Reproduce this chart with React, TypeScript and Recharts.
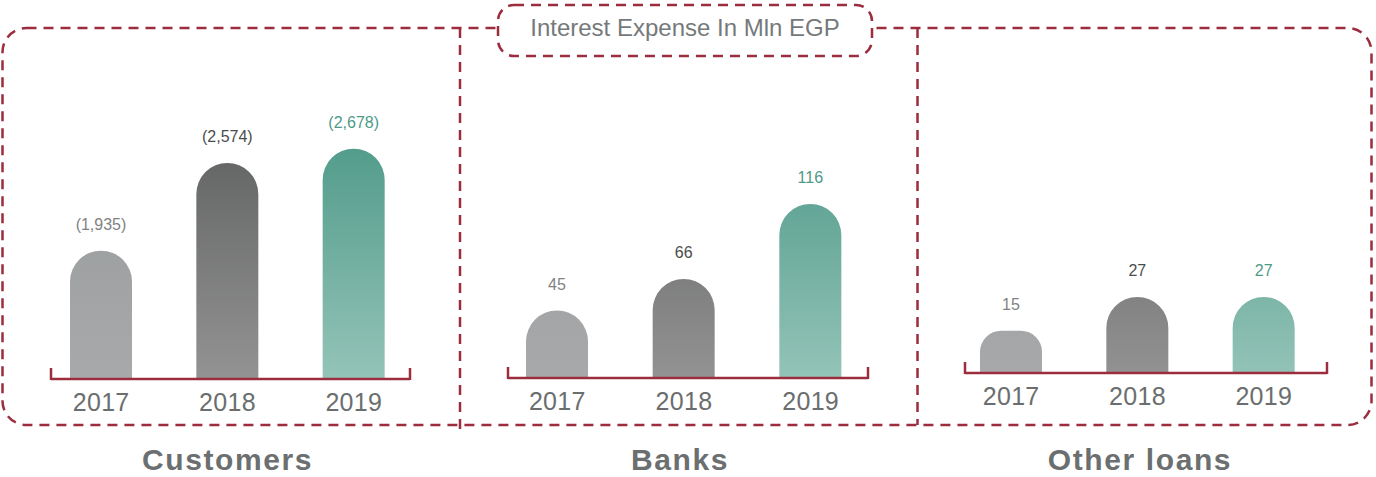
import React from "react"
import { BarChart, Bar, XAxis, YAxis, Cell } from "recharts"

// ---------------------------------------------------------------------------
// Data
// ---------------------------------------------------------------------------

const years = ["2017", "2018", "2019"]
const customers = [1935, 2574, 2678]
const banks = [45, 66, 116]
const otherLoans = [15, 27, 27]
const panelTitles = ["Customers", "Banks", "Other loans"]
const chartTitle = "Interest Expense In Mln EGP"

// ---------------------------------------------------------------------------
// Styles
// ---------------------------------------------------------------------------

const MAROON = "#9b2d3f"
const FONT = "'Liberation Sans', Arial, Helvetica, sans-serif"
const LABEL_COLORS = ["#7f8282", "#4b4d4d", "#4e9a88"]
const GRADIENTS = [
  ["#95999a", "#a8a9aa"],
  ["#5f6160", "#939393"],
  ["#4e9988", "#94c4b8"],
]

const paren = (v: number) => `(${v.toLocaleString("en-US")})`
const plain = (v: number) => String(v)

// ---------------------------------------------------------------------------
// One panel
// ---------------------------------------------------------------------------

interface PanelProps {
  id: string
  values: number[]
  fmt: (v: number) => string
  domain: [number, number]
  left: number
  width: number
  margin: { top: number; right: number; bottom: number; left: number }
  padding: { left: number; right: number }
}

function Panel({ id, values, fmt, domain, left, width, margin, padding }: PanelProps) {
  const data = years.map((year, i) => ({ year, value: values[i] }))

  const renderLabel = (props: any) => {
    const { x, y, width: w, value, index } = props
    return (
      <text
        x={Number(x) + Number(w) / 2}
        y={Number(y) - 21}
        textAnchor="middle"
        fontSize={16}
        fontFamily={FONT}
        fill={LABEL_COLORS[index] ?? LABEL_COLORS[0]}
      >
        {fmt(Number(value))}
      </text>
    )
  }

  return (
    <div style={{ position: "absolute", left, top: 0 }}>
      <BarChart width={width} height={430} data={data} margin={margin}>
        <defs>
          {GRADIENTS.map(([from, to], i) => (
            <linearGradient
              key={i}
              id={`${id}-g${i}`}
              gradientUnits="userSpaceOnUse"
              x1="0"
              y1="130"
              x2="0"
              y2="380"
            >
              <stop offset="0%" stopColor={from} />
              <stop offset="100%" stopColor={to} />
            </linearGradient>
          ))}
        </defs>
        <XAxis
          dataKey="year"
          interval={0}
          height={40}
          padding={padding}
          tickLine={false}
          tickMargin={8}
          axisLine={{ stroke: MAROON, strokeWidth: 2.5 }}
          tick={{ fontSize: 25, fill: "#6b6e6e", fontFamily: FONT, letterSpacing: 0.3 }}
        />
        <YAxis hide domain={domain} />
        <Bar
          dataKey="value"
          barSize={62}
          radius={[31, 31, 0, 0]}
          isAnimationActive={false}
          label={renderLabel}
        >
          {data.map((d, i) => (
            <Cell key={d.year} fill={`url(#${id}-g${i})`} />
          ))}
        </Bar>
      </BarChart>
    </div>
  )
}

// ---------------------------------------------------------------------------
// Frame (dashed boxes, bracket ends)
// ---------------------------------------------------------------------------

function Frame() {
  const dash = { stroke: MAROON, strokeWidth: 2.5, strokeDasharray: "10 7", fill: "none" }
  const tick = { stroke: MAROON, strokeWidth: 2.5 }
  return (
    <svg
      width={1376}
      height={477}
      style={{ position: "absolute", left: 0, top: 0, pointerEvents: "none" }}
    >
      <rect x={2.5} y={28} width={1369} height={397} rx={24} {...dash} />
      <line x1={460} y1={28} x2={460} y2={429} {...dash} />
      <line x1={917.5} y1={28} x2={917.5} y2={425} {...dash} />
      <line x1={51} y1={368} x2={51} y2={380} {...tick} />
      <line x1={410} y1={368} x2={410} y2={380} {...tick} />
      <line x1={508} y1={367} x2={508} y2={379} {...tick} />
      <line x1={868} y1={367} x2={868} y2={379} {...tick} />
      <line x1={965} y1={362} x2={965} y2={374} {...tick} />
      <line x1={1327} y1={362} x2={1327} y2={374} {...tick} />
      <rect x={498} y={5} width={374} height={51} rx={16} {...dash} fill="#fff" />
    </svg>
  )
}

// ---------------------------------------------------------------------------
// App
// ---------------------------------------------------------------------------

export default function App() {
  const titleStyle: React.CSSProperties = {
    position: "absolute",
    top: 445,
    height: 30,
    fontSize: 30,
    lineHeight: "30px",
    letterSpacing: 1.6,
    fontWeight: 700,
    color: "#6b6f6f",
    textAlign: "center",
    whiteSpace: "nowrap",
  }
  return (
    <div
      style={{
        position: "absolute",
        left: 0,
        top: 0,
        width: 1376,
        height: 477,
        background: "#fff",
        overflow: "hidden",
        fontFamily: FONT,
      }}
    >
      <Panel
        id="cust"
        values={customers}
        fmt={paren}
        domain={[1000, 2800]}
        left={0}
        width={460}
        margin={{ top: 132, right: 50, bottom: 11, left: 51 }}
        padding={{ left: -13, right: -7 }}
      />
      <Panel
        id="bank"
        values={banks}
        fmt={plain}
        domain={[0, 150]}
        left={460}
        width={457}
        margin={{ top: 153, right: 49, bottom: 12, left: 48 }}
        padding={{ left: -14, right: -6 }}
      />
      <Panel
        id="other"
        values={otherLoans}
        fmt={plain}
        domain={[0, 60]}
        left={917}
        width={459}
        margin={{ top: 204, right: 49, bottom: 17, left: 48 }}
        padding={{ left: -17, right: 0 }}
      />
      <Frame />
      <div
        style={{
          position: "absolute",
          left: 498,
          width: 374,
          top: 14,
          fontSize: 24,
          lineHeight: "normal",
          color: "#76797a",
          textAlign: "center",
          whiteSpace: "nowrap",
        }}
      >
        {chartTitle}
      </div>
      <div style={{ ...titleStyle, left: 0, width: 455 }}>{panelTitles[0]}</div>
      <div style={{ ...titleStyle, left: 460, width: 440 }}>{panelTitles[1]}</div>
      <div style={{ ...titleStyle, left: 917, width: 446 }}>{panelTitles[2]}</div>
    </div>
  )
}
